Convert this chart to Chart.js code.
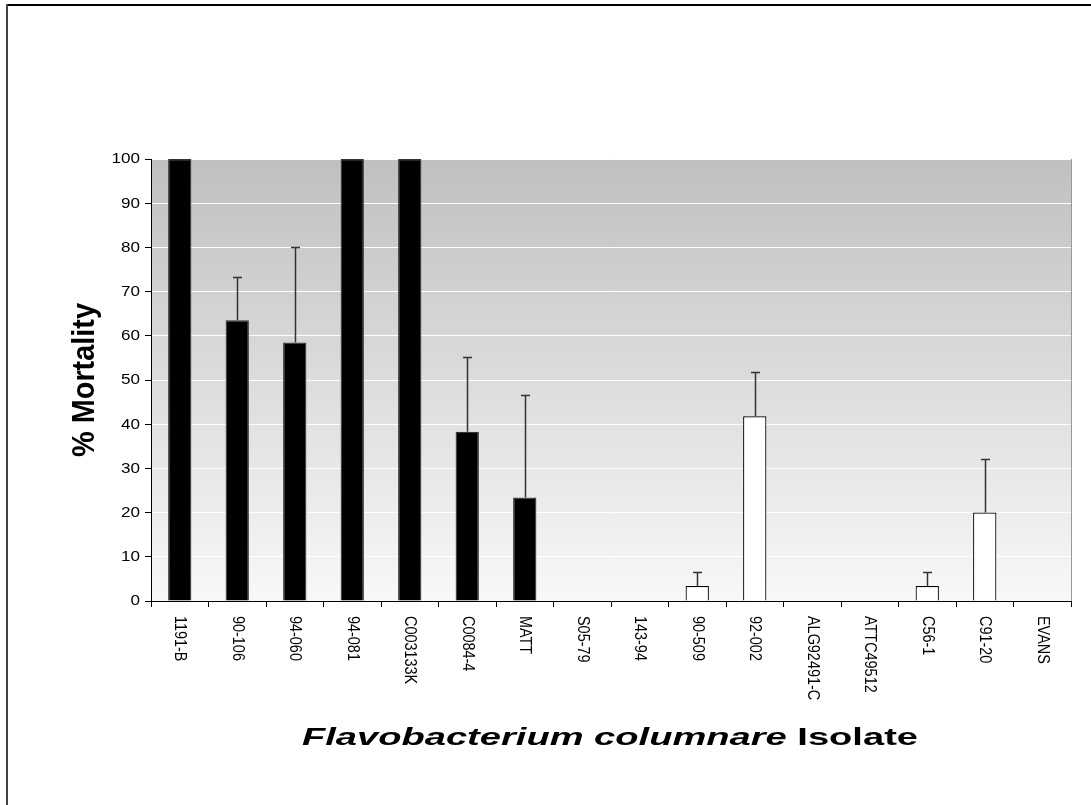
<!DOCTYPE html>
<html>
<head>
<meta charset="utf-8">
<script src="https://cdn.jsdelivr.net/npm/chart.js@4/dist/chart.umd.min.js"></script>
<style>
  html, body { margin: 0; padding: 0; background: #fff; }
  #wrap { width: 1091px; height: 805px; position: relative; }
</style>
</head>
<body>
<div id="wrap"><canvas id="c" width="1091" height="805"></canvas></div>
<script>
// ---- data ----
const isolates = ['1191-B','90-106','94-060','94-081','C003133K','C0084-4','MATT','S05-79','143-94','90-509','92-002','ALG92491-C','ATTC49512','C56-1','C91-20','EVANS'];
const mortality = [100, 63.5, 58.5, 100, 100, 38.3, 23.4, 0, 0, 3.4, 41.8, 0, 0, 3.4, 20, 0];
const stdError = [0, 9.8, 21.5, 0, 0, 17, 23.2, 0, 0, 3.2, 10.1, 0, 0, 3.2, 12.1, 0];
const yTicks = [0, 10, 20, 30, 40, 50, 60, 70, 80, 90, 100];
const yTitle = '% Mortality';
const xTitleItalic = 'Flavobacterium columnare';
const xTitleRest = ' Isolate';
const virulentCount = 7;

const FONT = '"Liberation Sans", Arimo, "DejaVu Sans", sans-serif';
const STRETCH = 1.22;

const decorPlugin = {
  id: 'decor',
  beforeDraw(chart) {
    const { ctx, chartArea: a } = chart;
    ctx.save();
    ctx.fillStyle = '#fff';
    ctx.fillRect(0, 0, chart.width, chart.height);
    const g = ctx.createLinearGradient(0, a.top, 0, a.bottom);
    g.addColorStop(0, '#c0c0c0');
    g.addColorStop(1, '#f8f8f8');
    ctx.fillStyle = g;
    ctx.fillRect(a.left, a.top, a.right - a.left, a.bottom - a.top);
    ctx.restore();
  },
  afterDatasetsDraw(chart) {
    const { ctx } = chart;
    const xs = chart.scales.x, ys = chart.scales.y;
    ctx.save();
    ctx.strokeStyle = '#333';
    ctx.lineWidth = 1.5;
    mortality.forEach((v, i) => {
      const e = stdError[i];
      if (!e) return;
      const x = Math.round(xs.getPixelForValue(i)) + 0.5;
      const y0 = ys.getPixelForValue(v);
      const y1 = Math.round(ys.getPixelForValue(v + e)) + 0.5;
      ctx.beginPath();
      ctx.moveTo(x, y0);
      ctx.lineTo(x, y1);
      ctx.moveTo(x - 4.5, y1);
      ctx.lineTo(x + 4.5, y1);
      ctx.stroke();
    });
    ctx.restore();
  },
  afterDraw(chart) {
    const { ctx, chartArea: a } = chart;
    const xs = chart.scales.x, ys = chart.scales.y;
    ctx.save();
    // right edge of plot
    ctx.strokeStyle = '#999';
    ctx.lineWidth = 1;
    ctx.beginPath();
    ctx.moveTo(a.right + 0.5, a.top);
    ctx.lineTo(a.right + 0.5, a.bottom);
    ctx.stroke();
    // y tick labels
    ctx.fillStyle = '#000';
    ctx.font = '14px ' + FONT;
    ctx.textAlign = 'right';
    ctx.textBaseline = 'middle';
    yTicks.forEach(t => {
      ctx.save();
      ctx.translate(a.left - 11, ys.getPixelForValue(t) + 0.5);
      ctx.scale(STRETCH, 1);
      ctx.fillText(String(t), 0, 0);
      ctx.restore();
    });
    // x tick labels (rotated clockwise)
    ctx.textAlign = 'left';
    isolates.forEach((lab, i) => {
      ctx.save();
      ctx.translate(xs.getPixelForValue(i), a.bottom + 15);
      ctx.rotate(Math.PI / 2);
      ctx.scale(1.03, 1.12);
      ctx.fillText(lab, 0, 0);
      ctx.restore();
    });
    // y title
    ctx.save();
    ctx.font = 'bold 28px ' + FONT;
    ctx.textAlign = 'center';
    ctx.textBaseline = 'middle';
    ctx.translate(86, (a.top + a.bottom) / 2);
    ctx.rotate(-Math.PI / 2);
    ctx.scale(1.03, 1.1);
    ctx.fillText(yTitle, 0, 0);
    ctx.restore();
    // x title
    ctx.save();
    const fi = 'italic bold 24px ' + FONT;
    const fb = 'bold 24px ' + FONT;
    ctx.font = fi; const w1 = ctx.measureText(xTitleItalic).width;
    ctx.font = fb; const w2 = ctx.measureText(xTitleRest).width;
    const total = w1 + w2;
    const sx = 616 / total;
    ctx.translate(610, 738);
    ctx.scale(sx, 1);
    ctx.textBaseline = 'middle';
    ctx.textAlign = 'left';
    const start = -total / 2;
    ctx.font = fi; ctx.fillText(xTitleItalic, start, 0);
    ctx.font = fb; ctx.fillText(xTitleRest, start + w1, 0);
    ctx.restore();
    // frame
    ctx.fillStyle = '#000';
    ctx.fillRect(6, 4, chart.width - 6, 2);
    ctx.fillStyle = '#444';
    ctx.fillRect(6, 4, 2, chart.height - 4);
    ctx.restore();
  }
};

new Chart(document.getElementById('c'), {
  type: 'bar',
  data: {
    labels: isolates,
    datasets: [{
      data: mortality,
      backgroundColor: ctx => ctx.dataIndex < virulentCount ? '#000' : '#fff',
      borderColor: ctx => ctx.dataIndex < virulentCount ? '#333' : '#000',
      borderWidth: 1.2,
      categoryPercentage: 1,
      barPercentage: 0.405
    }]
  },
  options: {
    responsive: false,
    animation: false,
    devicePixelRatio: 1,
    layout: { padding: { top: 159, right: 20, left: 0, bottom: 0 } },
    plugins: { legend: { display: false }, tooltip: { enabled: false }, title: { display: false } },
    scales: {
      x: {
        offset: true,
        grid: { offset: true, drawOnChartArea: false, drawTicks: true, tickLength: 6, tickColor: '#000' },
        border: { color: '#000', width: 1 },
        ticks: { callback: () => '', maxRotation: 0, autoSkip: false },
        afterFit: s => { s.height = 204; }
      },
      y: {
        min: 0, max: 100,
        grid: { color: '#fff', lineWidth: 1, tickColor: '#000', tickLength: 6 },
        border: { color: '#000', width: 1 },
        ticks: { stepSize: 10, callback: () => '' },
        afterFit: s => { s.width = 151; }
      }
    }
  },
  plugins: [decorPlugin]
});
</script>
</body>
</html>
